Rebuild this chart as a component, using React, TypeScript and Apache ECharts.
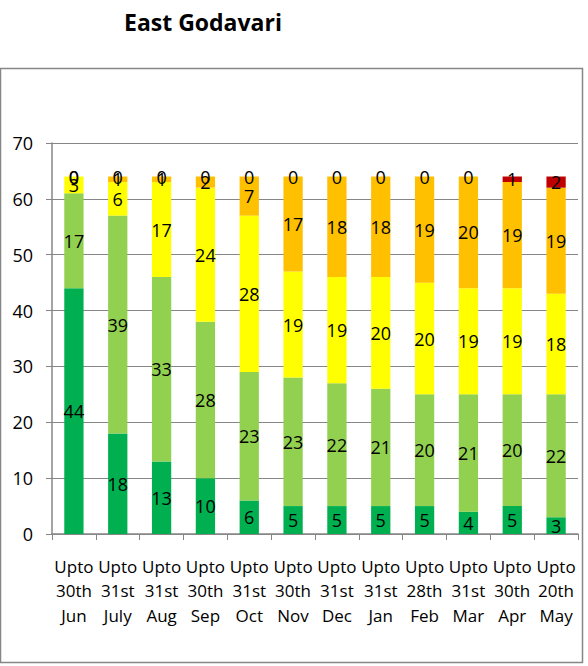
import React, { useEffect, useRef } from "react";
import * as echarts from "echarts";

const categories = [
  "Upto\n30th\nJun", "Upto\n31st\nJuly", "Upto\n31st\nAug", "Upto\n30th\nSep",
  "Upto\n31st\nOct", "Upto\n30th\nNov", "Upto\n31st\nDec", "Upto\n31st\nJan",
  "Upto\n28th\nFeb", "Upto\n31st\nMar", "Upto\n30th\nApr", "Upto\n20th\nMay",
];
const darkGreen = [44, 18, 13, 10, 6, 5, 5, 5, 5, 4, 5, 3];
const lightGreen = [17, 39, 33, 28, 23, 23, 22, 21, 20, 21, 20, 22];
const yellow = [3, 6, 17, 24, 28, 19, 19, 20, 20, 19, 19, 18];
const orange = [0, 1, 1, 2, 7, 17, 18, 18, 19, 20, 19, 19];
const red = [0, 0, 0, 0, 0, 0, 0, 0, 0, 0, 1, 2];

const seriesDefs = [
  { name: "s1", data: darkGreen, color: "#00B050" },
  { name: "s2", data: lightGreen, color: "#92D050" },
  { name: "s3", data: yellow, color: "#FFFF00" },
  { name: "s4", data: orange, color: "#FFC000" },
  { name: "s5", data: red, color: "#C00000" },
];

const FONT = "'Open Sans', sans-serif";

export default function App() {
  const ref = useRef<HTMLDivElement>(null);
  useEffect(() => {
    if (!ref.current) return;
    const chart = echarts.init(ref.current, null, { renderer: "svg" });
    chart.setOption({
      animation: false,
      backgroundColor: "#ffffff",
      title: {
        text: "East Godavari",
        left: 119,
        top: 5,
        textStyle: { fontFamily: FONT, fontWeight: "bold", fontSize: 23, color: "#000" },
      },
      graphic: [
        {
          type: "rect",
          shape: { x: 0.5, y: 68.5, width: 582, height: 594 },
          style: { fill: "none", stroke: "#868686", lineWidth: 1.5 },
          silent: true,
        },
      ],
      grid: { left: 52, right: 10, top: 143, bottom: 132, containLabel: false },
      xAxis: {
        type: "category",
        data: categories,
        axisLine: { lineStyle: { color: "#868686", width: 1.5 } },
        axisTick: { show: true, length: 6, lineStyle: { color: "#868686" } },
        axisLabel: {
          interval: 0,
          margin: 20,
          fontFamily: FONT,
          fontSize: 17,
          color: "#000",
          lineHeight: 24.5,
        },
      },
      yAxis: {
        type: "value",
        min: 0,
        max: 70,
        interval: 10,
        axisLine: { show: true, lineStyle: { color: "#868686", width: 1.5 } },
        axisTick: { show: true, length: 6, lineStyle: { color: "#868686" } },
        splitLine: { lineStyle: { color: "#868686", width: 1 } },
        axisLabel: { fontFamily: FONT, fontSize: 18, color: "#000", margin: 19 },
      },
      series: seriesDefs.map((s) => ({
        name: s.name,
        type: "bar",
        stack: "total",
        data: s.data,
        barWidth: "44%",
        itemStyle: { color: s.color },
        label: {
          show: true,
          position: "inside",
          fontFamily: FONT,
          fontSize: 18,
          color: "#000",
        },
      })),
    });
    return () => chart.dispose();
  }, []);
  return (
    <div
      ref={ref}
      style={{ position: "absolute", left: 0, top: 0, width: 588, height: 666 }}
    />
  );
}
